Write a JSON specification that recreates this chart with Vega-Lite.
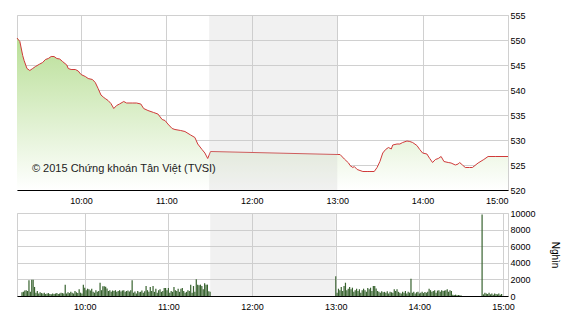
{
  "$schema": "https://vega.github.io/schema/vega-lite/v6.json",
  "padding": {"left": 14, "top": 10, "right": 5, "bottom": 5},
  "background": "white",
  "config": {
    "view": {"stroke": "#d0d0d0", "strokeWidth": 1},
    "font": "Liberation Sans",
    "axis": {
      "labelFont": "Liberation Sans",
      "labelFontSize": 9,
      "labelColor": "#000000",
      "labelOverlap": false,
      "gridColor": "#d0d0d0",
      "gridOpacity": 1,
      "ticks": false,
      "title": null,
      "zindex": 1
    }
  },
  "datasets": {
    "price": [
      {"t": "2015-01-01T09:15", "p": 550.4},
      {"t": "2015-01-01T09:17", "p": 549.7},
      {"t": "2015-01-01T09:19", "p": 546.9},
      {"t": "2015-01-01T09:20", "p": 545.9},
      {"t": "2015-01-01T09:22", "p": 544.3},
      {"t": "2015-01-01T09:24", "p": 543.9},
      {"t": "2015-01-01T09:26", "p": 544.3},
      {"t": "2015-01-01T09:28", "p": 544.7},
      {"t": "2015-01-01T09:31", "p": 545.2},
      {"t": "2015-01-01T09:33", "p": 545.5},
      {"t": "2015-01-01T09:35", "p": 546.1},
      {"t": "2015-01-01T09:37", "p": 546.3},
      {"t": "2015-01-01T09:39", "p": 546.7},
      {"t": "2015-01-01T09:41", "p": 546.7},
      {"t": "2015-01-01T09:43", "p": 546.3},
      {"t": "2015-01-01T09:45", "p": 546.2},
      {"t": "2015-01-01T09:47", "p": 545.7},
      {"t": "2015-01-01T09:50", "p": 545.0},
      {"t": "2015-01-01T09:51", "p": 544.3},
      {"t": "2015-01-01T09:53", "p": 544.1},
      {"t": "2015-01-01T09:56", "p": 544.1},
      {"t": "2015-01-01T09:58", "p": 543.8},
      {"t": "2015-01-01T10:00", "p": 543.1},
      {"t": "2015-01-01T10:03", "p": 542.7},
      {"t": "2015-01-01T10:05", "p": 542.3},
      {"t": "2015-01-01T10:08", "p": 542.1},
      {"t": "2015-01-01T10:10", "p": 541.5},
      {"t": "2015-01-01T10:12", "p": 540.3},
      {"t": "2015-01-01T10:14", "p": 539.0},
      {"t": "2015-01-01T10:16", "p": 538.5},
      {"t": "2015-01-01T10:17", "p": 538.3},
      {"t": "2015-01-01T10:19", "p": 537.9},
      {"t": "2015-01-01T10:21", "p": 537.3},
      {"t": "2015-01-01T10:23", "p": 536.3},
      {"t": "2015-01-01T10:25", "p": 536.9},
      {"t": "2015-01-01T10:27", "p": 537.2},
      {"t": "2015-01-01T10:30", "p": 537.7},
      {"t": "2015-01-01T10:32", "p": 537.4},
      {"t": "2015-01-01T10:36", "p": 537.4},
      {"t": "2015-01-01T10:39", "p": 537.4},
      {"t": "2015-01-01T10:42", "p": 537.2},
      {"t": "2015-01-01T10:44", "p": 536.3},
      {"t": "2015-01-01T10:47", "p": 535.9},
      {"t": "2015-01-01T10:51", "p": 535.5},
      {"t": "2015-01-01T10:54", "p": 535.2},
      {"t": "2015-01-01T10:57", "p": 534.1},
      {"t": "2015-01-01T10:59", "p": 533.9},
      {"t": "2015-01-01T11:01", "p": 533.2},
      {"t": "2015-01-01T11:04", "p": 532.3},
      {"t": "2015-01-01T11:06", "p": 532.1},
      {"t": "2015-01-01T11:10", "p": 531.9},
      {"t": "2015-01-01T11:13", "p": 531.7},
      {"t": "2015-01-01T11:17", "p": 531.0},
      {"t": "2015-01-01T11:20", "p": 530.5},
      {"t": "2015-01-01T11:22", "p": 529.2},
      {"t": "2015-01-01T11:25", "p": 528.1},
      {"t": "2015-01-01T11:27", "p": 527.4},
      {"t": "2015-01-01T11:29", "p": 526.3},
      {"t": "2015-01-01T11:30", "p": 527.0},
      {"t": "2015-01-01T11:31", "p": 527.7},
      {"t": "2015-01-01T13:00", "p": 527.1},
      {"t": "2015-01-01T13:02", "p": 527.1},
      {"t": "2015-01-01T13:05", "p": 526.2},
      {"t": "2015-01-01T13:08", "p": 525.4},
      {"t": "2015-01-01T13:09", "p": 524.9},
      {"t": "2015-01-01T13:11", "p": 524.5},
      {"t": "2015-01-01T13:12", "p": 524.7},
      {"t": "2015-01-01T13:14", "p": 524.1},
      {"t": "2015-01-01T13:16", "p": 523.9},
      {"t": "2015-01-01T13:18", "p": 523.7},
      {"t": "2015-01-01T13:21", "p": 523.7},
      {"t": "2015-01-01T13:23", "p": 523.7},
      {"t": "2015-01-01T13:26", "p": 523.7},
      {"t": "2015-01-01T13:28", "p": 524.5},
      {"t": "2015-01-01T13:30", "p": 525.7},
      {"t": "2015-01-01T13:32", "p": 527.4},
      {"t": "2015-01-01T13:34", "p": 528.1},
      {"t": "2015-01-01T13:36", "p": 528.5},
      {"t": "2015-01-01T13:38", "p": 528.2},
      {"t": "2015-01-01T13:39", "p": 529.0},
      {"t": "2015-01-01T13:42", "p": 529.2},
      {"t": "2015-01-01T13:44", "p": 529.2},
      {"t": "2015-01-01T13:46", "p": 529.5},
      {"t": "2015-01-01T13:49", "p": 529.8},
      {"t": "2015-01-01T13:51", "p": 529.7},
      {"t": "2015-01-01T13:53", "p": 529.5},
      {"t": "2015-01-01T13:56", "p": 528.9},
      {"t": "2015-01-01T13:58", "p": 528.1},
      {"t": "2015-01-01T14:00", "p": 527.4},
      {"t": "2015-01-01T14:03", "p": 527.2},
      {"t": "2015-01-01T14:05", "p": 526.3},
      {"t": "2015-01-01T14:07", "p": 525.5},
      {"t": "2015-01-01T14:09", "p": 526.1},
      {"t": "2015-01-01T14:11", "p": 526.3},
      {"t": "2015-01-01T14:13", "p": 526.7},
      {"t": "2015-01-01T14:15", "p": 525.7},
      {"t": "2015-01-01T14:18", "p": 525.5},
      {"t": "2015-01-01T14:20", "p": 525.4},
      {"t": "2015-01-01T14:23", "p": 525.0},
      {"t": "2015-01-01T14:25", "p": 525.2},
      {"t": "2015-01-01T14:26", "p": 525.5},
      {"t": "2015-01-01T14:28", "p": 525.0},
      {"t": "2015-01-01T14:30", "p": 524.5},
      {"t": "2015-01-01T14:33", "p": 524.5},
      {"t": "2015-01-01T14:35", "p": 524.5},
      {"t": "2015-01-01T14:39", "p": 525.4},
      {"t": "2015-01-01T14:43", "p": 526.1},
      {"t": "2015-01-01T14:46", "p": 526.7},
      {"t": "2015-01-01T14:51", "p": 526.7},
      {"t": "2015-01-01T15:00", "p": 526.7}
    ],
    "vol": [
      {"t": "2015-01-01T09:15", "v": 450}, {"t": "2015-01-01T09:16", "v": 500}, {"t": "2015-01-01T09:17", "v": 650}, {"t": "2015-01-01T09:18", "v": 700},
      {"t": "2015-01-01T09:19", "v": 600}, {"t": "2015-01-01T09:20", "v": 1890}, {"t": "2015-01-01T09:21", "v": 500}, {"t": "2015-01-01T09:22", "v": 1970},
      {"t": "2015-01-01T09:23", "v": 1970}, {"t": "2015-01-01T09:24", "v": 1090}, {"t": "2015-01-01T09:25", "v": 400}, {"t": "2015-01-01T09:26", "v": 600},
      {"t": "2015-01-01T09:27", "v": 300}, {"t": "2015-01-01T09:28", "v": 450}, {"t": "2015-01-01T09:29", "v": 350}, {"t": "2015-01-01T09:30", "v": 300},
      {"t": "2015-01-01T09:31", "v": 400}, {"t": "2015-01-01T09:32", "v": 250}, {"t": "2015-01-01T09:33", "v": 300}, {"t": "2015-01-01T09:34", "v": 350},
      {"t": "2015-01-01T09:35", "v": 250}, {"t": "2015-01-01T09:36", "v": 200}, {"t": "2015-01-01T09:37", "v": 300}, {"t": "2015-01-01T09:38", "v": 250},
      {"t": "2015-01-01T09:39", "v": 300}, {"t": "2015-01-01T09:40", "v": 350}, {"t": "2015-01-01T09:41", "v": 250}, {"t": "2015-01-01T09:42", "v": 300},
      {"t": "2015-01-01T09:43", "v": 400}, {"t": "2015-01-01T09:44", "v": 350}, {"t": "2015-01-01T09:45", "v": 300}, {"t": "2015-01-01T09:46", "v": 1370},
      {"t": "2015-01-01T09:47", "v": 300}, {"t": "2015-01-01T09:48", "v": 450}, {"t": "2015-01-01T09:49", "v": 350}, {"t": "2015-01-01T09:50", "v": 500},
      {"t": "2015-01-01T09:51", "v": 400}, {"t": "2015-01-01T09:52", "v": 300}, {"t": "2015-01-01T09:53", "v": 600}, {"t": "2015-01-01T09:54", "v": 450},
      {"t": "2015-01-01T09:55", "v": 350}, {"t": "2015-01-01T09:56", "v": 800}, {"t": "2015-01-01T09:57", "v": 400}, {"t": "2015-01-01T09:58", "v": 300},
      {"t": "2015-01-01T09:59", "v": 1370}, {"t": "2015-01-01T10:00", "v": 1000}, {"t": "2015-01-01T10:01", "v": 700}, {"t": "2015-01-01T10:02", "v": 880},
      {"t": "2015-01-01T10:03", "v": 800}, {"t": "2015-01-01T10:04", "v": 650}, {"t": "2015-01-01T10:05", "v": 880}, {"t": "2015-01-01T10:06", "v": 500},
      {"t": "2015-01-01T10:07", "v": 400}, {"t": "2015-01-01T10:08", "v": 700}, {"t": "2015-01-01T10:09", "v": 500}, {"t": "2015-01-01T10:10", "v": 600},
      {"t": "2015-01-01T10:11", "v": 1600}, {"t": "2015-01-01T10:12", "v": 700}, {"t": "2015-01-01T10:13", "v": 1170}, {"t": "2015-01-01T10:14", "v": 1170},
      {"t": "2015-01-01T10:15", "v": 1100}, {"t": "2015-01-01T10:16", "v": 900}, {"t": "2015-01-01T10:17", "v": 600}, {"t": "2015-01-01T10:18", "v": 700},
      {"t": "2015-01-01T10:19", "v": 500}, {"t": "2015-01-01T10:20", "v": 650}, {"t": "2015-01-01T10:21", "v": 600}, {"t": "2015-01-01T10:22", "v": 700},
      {"t": "2015-01-01T10:23", "v": 500}, {"t": "2015-01-01T10:24", "v": 600}, {"t": "2015-01-01T10:25", "v": 700}, {"t": "2015-01-01T10:26", "v": 550},
      {"t": "2015-01-01T10:27", "v": 650}, {"t": "2015-01-01T10:28", "v": 700}, {"t": "2015-01-01T10:29", "v": 500}, {"t": "2015-01-01T10:30", "v": 600},
      {"t": "2015-01-01T10:31", "v": 650}, {"t": "2015-01-01T10:32", "v": 550}, {"t": "2015-01-01T10:33", "v": 700}, {"t": "2015-01-01T10:34", "v": 1890},
      {"t": "2015-01-01T10:35", "v": 400}, {"t": "2015-01-01T10:36", "v": 550}, {"t": "2015-01-01T10:37", "v": 300}, {"t": "2015-01-01T10:38", "v": 600},
      {"t": "2015-01-01T10:39", "v": 450}, {"t": "2015-01-01T10:40", "v": 500}, {"t": "2015-01-01T10:41", "v": 650}, {"t": "2015-01-01T10:42", "v": 400},
      {"t": "2015-01-01T10:43", "v": 560}, {"t": "2015-01-01T10:44", "v": 1200}, {"t": "2015-01-01T10:45", "v": 700}, {"t": "2015-01-01T10:46", "v": 500},
      {"t": "2015-01-01T10:47", "v": 1090}, {"t": "2015-01-01T10:48", "v": 600}, {"t": "2015-01-01T10:49", "v": 1200}, {"t": "2015-01-01T10:50", "v": 500},
      {"t": "2015-01-01T10:51", "v": 880}, {"t": "2015-01-01T10:52", "v": 400}, {"t": "2015-01-01T10:53", "v": 700}, {"t": "2015-01-01T10:54", "v": 800},
      {"t": "2015-01-01T10:55", "v": 500}, {"t": "2015-01-01T10:56", "v": 600}, {"t": "2015-01-01T10:57", "v": 960}, {"t": "2015-01-01T10:58", "v": 960},
      {"t": "2015-01-01T10:59", "v": 700}, {"t": "2015-01-01T11:00", "v": 960}, {"t": "2015-01-01T11:01", "v": 400}, {"t": "2015-01-01T11:02", "v": 600},
      {"t": "2015-01-01T11:03", "v": 500}, {"t": "2015-01-01T11:04", "v": 1090}, {"t": "2015-01-01T11:05", "v": 700}, {"t": "2015-01-01T11:06", "v": 600},
      {"t": "2015-01-01T11:07", "v": 880}, {"t": "2015-01-01T11:08", "v": 500}, {"t": "2015-01-01T11:09", "v": 880}, {"t": "2015-01-01T11:10", "v": 960},
      {"t": "2015-01-01T11:11", "v": 600}, {"t": "2015-01-01T11:12", "v": 400}, {"t": "2015-01-01T11:13", "v": 500}, {"t": "2015-01-01T11:14", "v": 700},
      {"t": "2015-01-01T11:15", "v": 600}, {"t": "2015-01-01T11:16", "v": 1370}, {"t": "2015-01-01T11:17", "v": 400}, {"t": "2015-01-01T11:18", "v": 1200},
      {"t": "2015-01-01T11:19", "v": 500}, {"t": "2015-01-01T11:20", "v": 2010}, {"t": "2015-01-01T11:21", "v": 1370}, {"t": "2015-01-01T11:22", "v": 1300},
      {"t": "2015-01-01T11:23", "v": 1370}, {"t": "2015-01-01T11:24", "v": 1200}, {"t": "2015-01-01T11:25", "v": 800}, {"t": "2015-01-01T11:26", "v": 1530},
      {"t": "2015-01-01T11:27", "v": 1370}, {"t": "2015-01-01T11:28", "v": 1370}, {"t": "2015-01-01T11:29", "v": 560}, {"t": "2015-01-01T11:30", "v": 500},
      {"t": "2015-01-01T13:00", "v": 2370}, {"t": "2015-01-01T13:01", "v": 400}, {"t": "2015-01-01T13:02", "v": 880}, {"t": "2015-01-01T13:03", "v": 700},
      {"t": "2015-01-01T13:04", "v": 1090}, {"t": "2015-01-01T13:05", "v": 600}, {"t": "2015-01-01T13:06", "v": 1200}, {"t": "2015-01-01T13:07", "v": 1600},
      {"t": "2015-01-01T13:08", "v": 700}, {"t": "2015-01-01T13:09", "v": 880}, {"t": "2015-01-01T13:10", "v": 1090}, {"t": "2015-01-01T13:11", "v": 800},
      {"t": "2015-01-01T13:12", "v": 1000}, {"t": "2015-01-01T13:13", "v": 500}, {"t": "2015-01-01T13:14", "v": 700}, {"t": "2015-01-01T13:15", "v": 880},
      {"t": "2015-01-01T13:16", "v": 600}, {"t": "2015-01-01T13:17", "v": 800}, {"t": "2015-01-01T13:18", "v": 400}, {"t": "2015-01-01T13:19", "v": 700},
      {"t": "2015-01-01T13:20", "v": 880}, {"t": "2015-01-01T13:21", "v": 700}, {"t": "2015-01-01T13:22", "v": 500}, {"t": "2015-01-01T13:23", "v": 960},
      {"t": "2015-01-01T13:24", "v": 800}, {"t": "2015-01-01T13:25", "v": 1000}, {"t": "2015-01-01T13:26", "v": 600}, {"t": "2015-01-01T13:27", "v": 1200},
      {"t": "2015-01-01T13:28", "v": 1200}, {"t": "2015-01-01T13:29", "v": 900}, {"t": "2015-01-01T13:30", "v": 600}, {"t": "2015-01-01T13:31", "v": 500},
      {"t": "2015-01-01T13:32", "v": 400}, {"t": "2015-01-01T13:33", "v": 560}, {"t": "2015-01-01T13:34", "v": 450}, {"t": "2015-01-01T13:35", "v": 500},
      {"t": "2015-01-01T13:36", "v": 400}, {"t": "2015-01-01T13:37", "v": 560}, {"t": "2015-01-01T13:38", "v": 300}, {"t": "2015-01-01T13:39", "v": 500},
      {"t": "2015-01-01T13:40", "v": 450}, {"t": "2015-01-01T13:41", "v": 400}, {"t": "2015-01-01T13:42", "v": 800}, {"t": "2015-01-01T13:43", "v": 600},
      {"t": "2015-01-01T13:44", "v": 800}, {"t": "2015-01-01T13:45", "v": 500}, {"t": "2015-01-01T13:46", "v": 400}, {"t": "2015-01-01T13:47", "v": 300},
      {"t": "2015-01-01T13:48", "v": 500}, {"t": "2015-01-01T13:49", "v": 400}, {"t": "2015-01-01T13:50", "v": 600}, {"t": "2015-01-01T13:51", "v": 300},
      {"t": "2015-01-01T13:52", "v": 500}, {"t": "2015-01-01T13:53", "v": 400}, {"t": "2015-01-01T13:54", "v": 2090}, {"t": "2015-01-01T13:55", "v": 400},
      {"t": "2015-01-01T13:56", "v": 500}, {"t": "2015-01-01T13:57", "v": 300}, {"t": "2015-01-01T13:58", "v": 450}, {"t": "2015-01-01T13:59", "v": 500},
      {"t": "2015-01-01T14:00", "v": 300}, {"t": "2015-01-01T14:01", "v": 400}, {"t": "2015-01-01T14:02", "v": 500}, {"t": "2015-01-01T14:03", "v": 350},
      {"t": "2015-01-01T14:04", "v": 480}, {"t": "2015-01-01T14:05", "v": 400}, {"t": "2015-01-01T14:06", "v": 500}, {"t": "2015-01-01T14:07", "v": 880},
      {"t": "2015-01-01T14:08", "v": 700}, {"t": "2015-01-01T14:09", "v": 500}, {"t": "2015-01-01T14:10", "v": 600}, {"t": "2015-01-01T14:11", "v": 700},
      {"t": "2015-01-01T14:12", "v": 400}, {"t": "2015-01-01T14:13", "v": 650}, {"t": "2015-01-01T14:14", "v": 700}, {"t": "2015-01-01T14:15", "v": 500},
      {"t": "2015-01-01T14:16", "v": 700}, {"t": "2015-01-01T14:17", "v": 600}, {"t": "2015-01-01T14:18", "v": 650}, {"t": "2015-01-01T14:19", "v": 700},
      {"t": "2015-01-01T14:20", "v": 800}, {"t": "2015-01-01T14:21", "v": 500}, {"t": "2015-01-01T14:22", "v": 700}, {"t": "2015-01-01T14:23", "v": 600},
      {"t": "2015-01-01T14:24", "v": 160}, {"t": "2015-01-01T14:25", "v": 120}, {"t": "2015-01-01T14:26", "v": 160}, {"t": "2015-01-01T14:27", "v": 80},
      {"t": "2015-01-01T14:28", "v": 120}, {"t": "2015-01-01T14:29", "v": 100}, {"t": "2015-01-01T14:30", "v": 60},
      {"t": "2015-01-01T14:45", "v": 9830}, {"t": "2015-01-01T14:46", "v": 200}, {"t": "2015-01-01T14:47", "v": 400}, {"t": "2015-01-01T14:48", "v": 300},
      {"t": "2015-01-01T14:49", "v": 250}, {"t": "2015-01-01T14:50", "v": 400}, {"t": "2015-01-01T14:51", "v": 200}, {"t": "2015-01-01T14:52", "v": 300},
      {"t": "2015-01-01T14:53", "v": 150}, {"t": "2015-01-01T14:54", "v": 300}, {"t": "2015-01-01T14:55", "v": 250}, {"t": "2015-01-01T14:56", "v": 200},
      {"t": "2015-01-01T14:57", "v": 300}, {"t": "2015-01-01T14:58", "v": 150}, {"t": "2015-01-01T14:59", "v": 250}
    ]
  },
  "vconcat": [
    {
      "width": 491,
      "height": 175,
      "layer": [
        {
          "data": {"name": "price"},
          "mark": {
            "type": "area",
            "color": {
              "gradient": "linear",
              "x1": 0, "y1": 0, "x2": 0, "y2": 1,
              "stops": [
                {"offset": 0, "color": "#b9df97"},
                {"offset": 1, "color": "#ffffff"}
              ]
            }
          },
          "encoding": {
            "x": {
              "field": "t", "type": "temporal",
              "scale": {"domain": [
                {"year": 2015, "month": 1, "date": 1, "hours": 9, "minutes": 15},
                {"year": 2015, "month": 1, "date": 1, "hours": 15, "minutes": 0}
              ]},
              "axis": {
                "format": "%H:%M",
                "labelPadding": 6,
                "domainColor": "#000000",
                "domainWidth": 1,
                "values": [
                  {"year": 2015, "month": 1, "date": 1, "hours": 10},
                  {"year": 2015, "month": 1, "date": 1, "hours": 11},
                  {"year": 2015, "month": 1, "date": 1, "hours": 12},
                  {"year": 2015, "month": 1, "date": 1, "hours": 13},
                  {"year": 2015, "month": 1, "date": 1, "hours": 14},
                  {"year": 2015, "month": 1, "date": 1, "hours": 15}
                ]
              }
            },
            "y": {
              "field": "p", "type": "quantitative",
              "scale": {"domain": [520, 555], "zero": false, "nice": false},
              "axis": {
                "orient": "right",
                "values": [520, 525, 530, 535, 540, 545, 550, 555],
                "labelPadding": 2,
                "domain": false
              }
            },
            "y2": {"datum": 520}
          }
        },
        {
          "data": {"name": "price"},
          "mark": {"type": "line", "color": "#d03a3a", "strokeWidth": 1},
          "encoding": {
            "x": {"field": "t", "type": "temporal"},
            "y": {
              "field": "p", "type": "quantitative",
              "axis": {
                "orient": "right",
                "values": [520, 525, 530, 535, 540, 545, 550, 555],
                "labelPadding": 2,
                "domain": false
              }
            }
          }
        },
        {
          "data": {"values": [{}]},
          "mark": {"type": "rect", "color": "#c8c8c8", "opacity": 0.25},
          "encoding": {
            "x": {"datum": {"year": 2015, "month": 1, "date": 1, "hours": 11, "minutes": 30}, "type": "temporal"},
            "x2": {"datum": {"year": 2015, "month": 1, "date": 1, "hours": 13, "minutes": 0}}
          }
        },
        {
          "data": {"values": [{"label": "© 2015 Chứng khoán Tân Việt (TVSI)"}]},
          "mark": {"type": "text", "align": "left", "baseline": "middle", "font": "Liberation Sans", "fontSize": 11, "color": "#222222"},
          "encoding": {
            "x": {"datum": {"year": 2015, "month": 1, "date": 1, "hours": 9, "minutes": 25, "seconds": 30}, "type": "temporal"},
            "y": {
              "datum": 524.2, "type": "quantitative",
              "axis": {
                "orient": "right",
                "values": [520, 525, 530, 535, 540, 545, 550, 555],
                "labelPadding": 2,
                "domain": false
              }
            },
            "text": {"field": "label"}
          }
        }
      ]
    },
    {
      "width": 491,
      "height": 83,
      "layer": [
        {
          "data": {"name": "vol"},
          "mark": {"type": "bar", "color": "#38632f", "size": 1.2},
          "encoding": {
            "x": {
              "field": "t", "type": "temporal",
              "scale": {"domain": [
                {"year": 2015, "month": 1, "date": 1, "hours": 9, "minutes": 15},
                {"year": 2015, "month": 1, "date": 1, "hours": 15, "minutes": 0}
              ]},
              "axis": {
                "format": "%H:%M",
                "labelPadding": 6,
                "domainColor": "#000000",
                "domainWidth": 1,
                "values": [
                  {"year": 2015, "month": 1, "date": 1, "hours": 10},
                  {"year": 2015, "month": 1, "date": 1, "hours": 11},
                  {"year": 2015, "month": 1, "date": 1, "hours": 12},
                  {"year": 2015, "month": 1, "date": 1, "hours": 13},
                  {"year": 2015, "month": 1, "date": 1, "hours": 14},
                  {"year": 2015, "month": 1, "date": 1, "hours": 15}
                ]
              }
            },
            "y": {
              "field": "v", "type": "quantitative",
              "scale": {"domain": [0, 10000], "nice": false},
              "axis": {
                "orient": "right",
                "values": [0, 2000, 4000, 6000, 8000, 10000],
                "format": "d",
                "labelPadding": 2,
                "domain": false,
                "title": "Nghìn",
                "titleFont": "Liberation Sans",
                "titleFontSize": 10,
                "titleFontWeight": "normal",
                "titleColor": "#000000",
                "titlePadding": 14
              }
            }
          }
        },
        {
          "data": {"values": [{}]},
          "mark": {"type": "rect", "color": "#c8c8c8", "opacity": 0.25},
          "encoding": {
            "x": {"datum": {"year": 2015, "month": 1, "date": 1, "hours": 11, "minutes": 30}, "type": "temporal"},
            "x2": {"datum": {"year": 2015, "month": 1, "date": 1, "hours": 13, "minutes": 0}}
          }
        }
      ]
    }
  ],
  "bounds": "flush",
  "spacing": 23
}
